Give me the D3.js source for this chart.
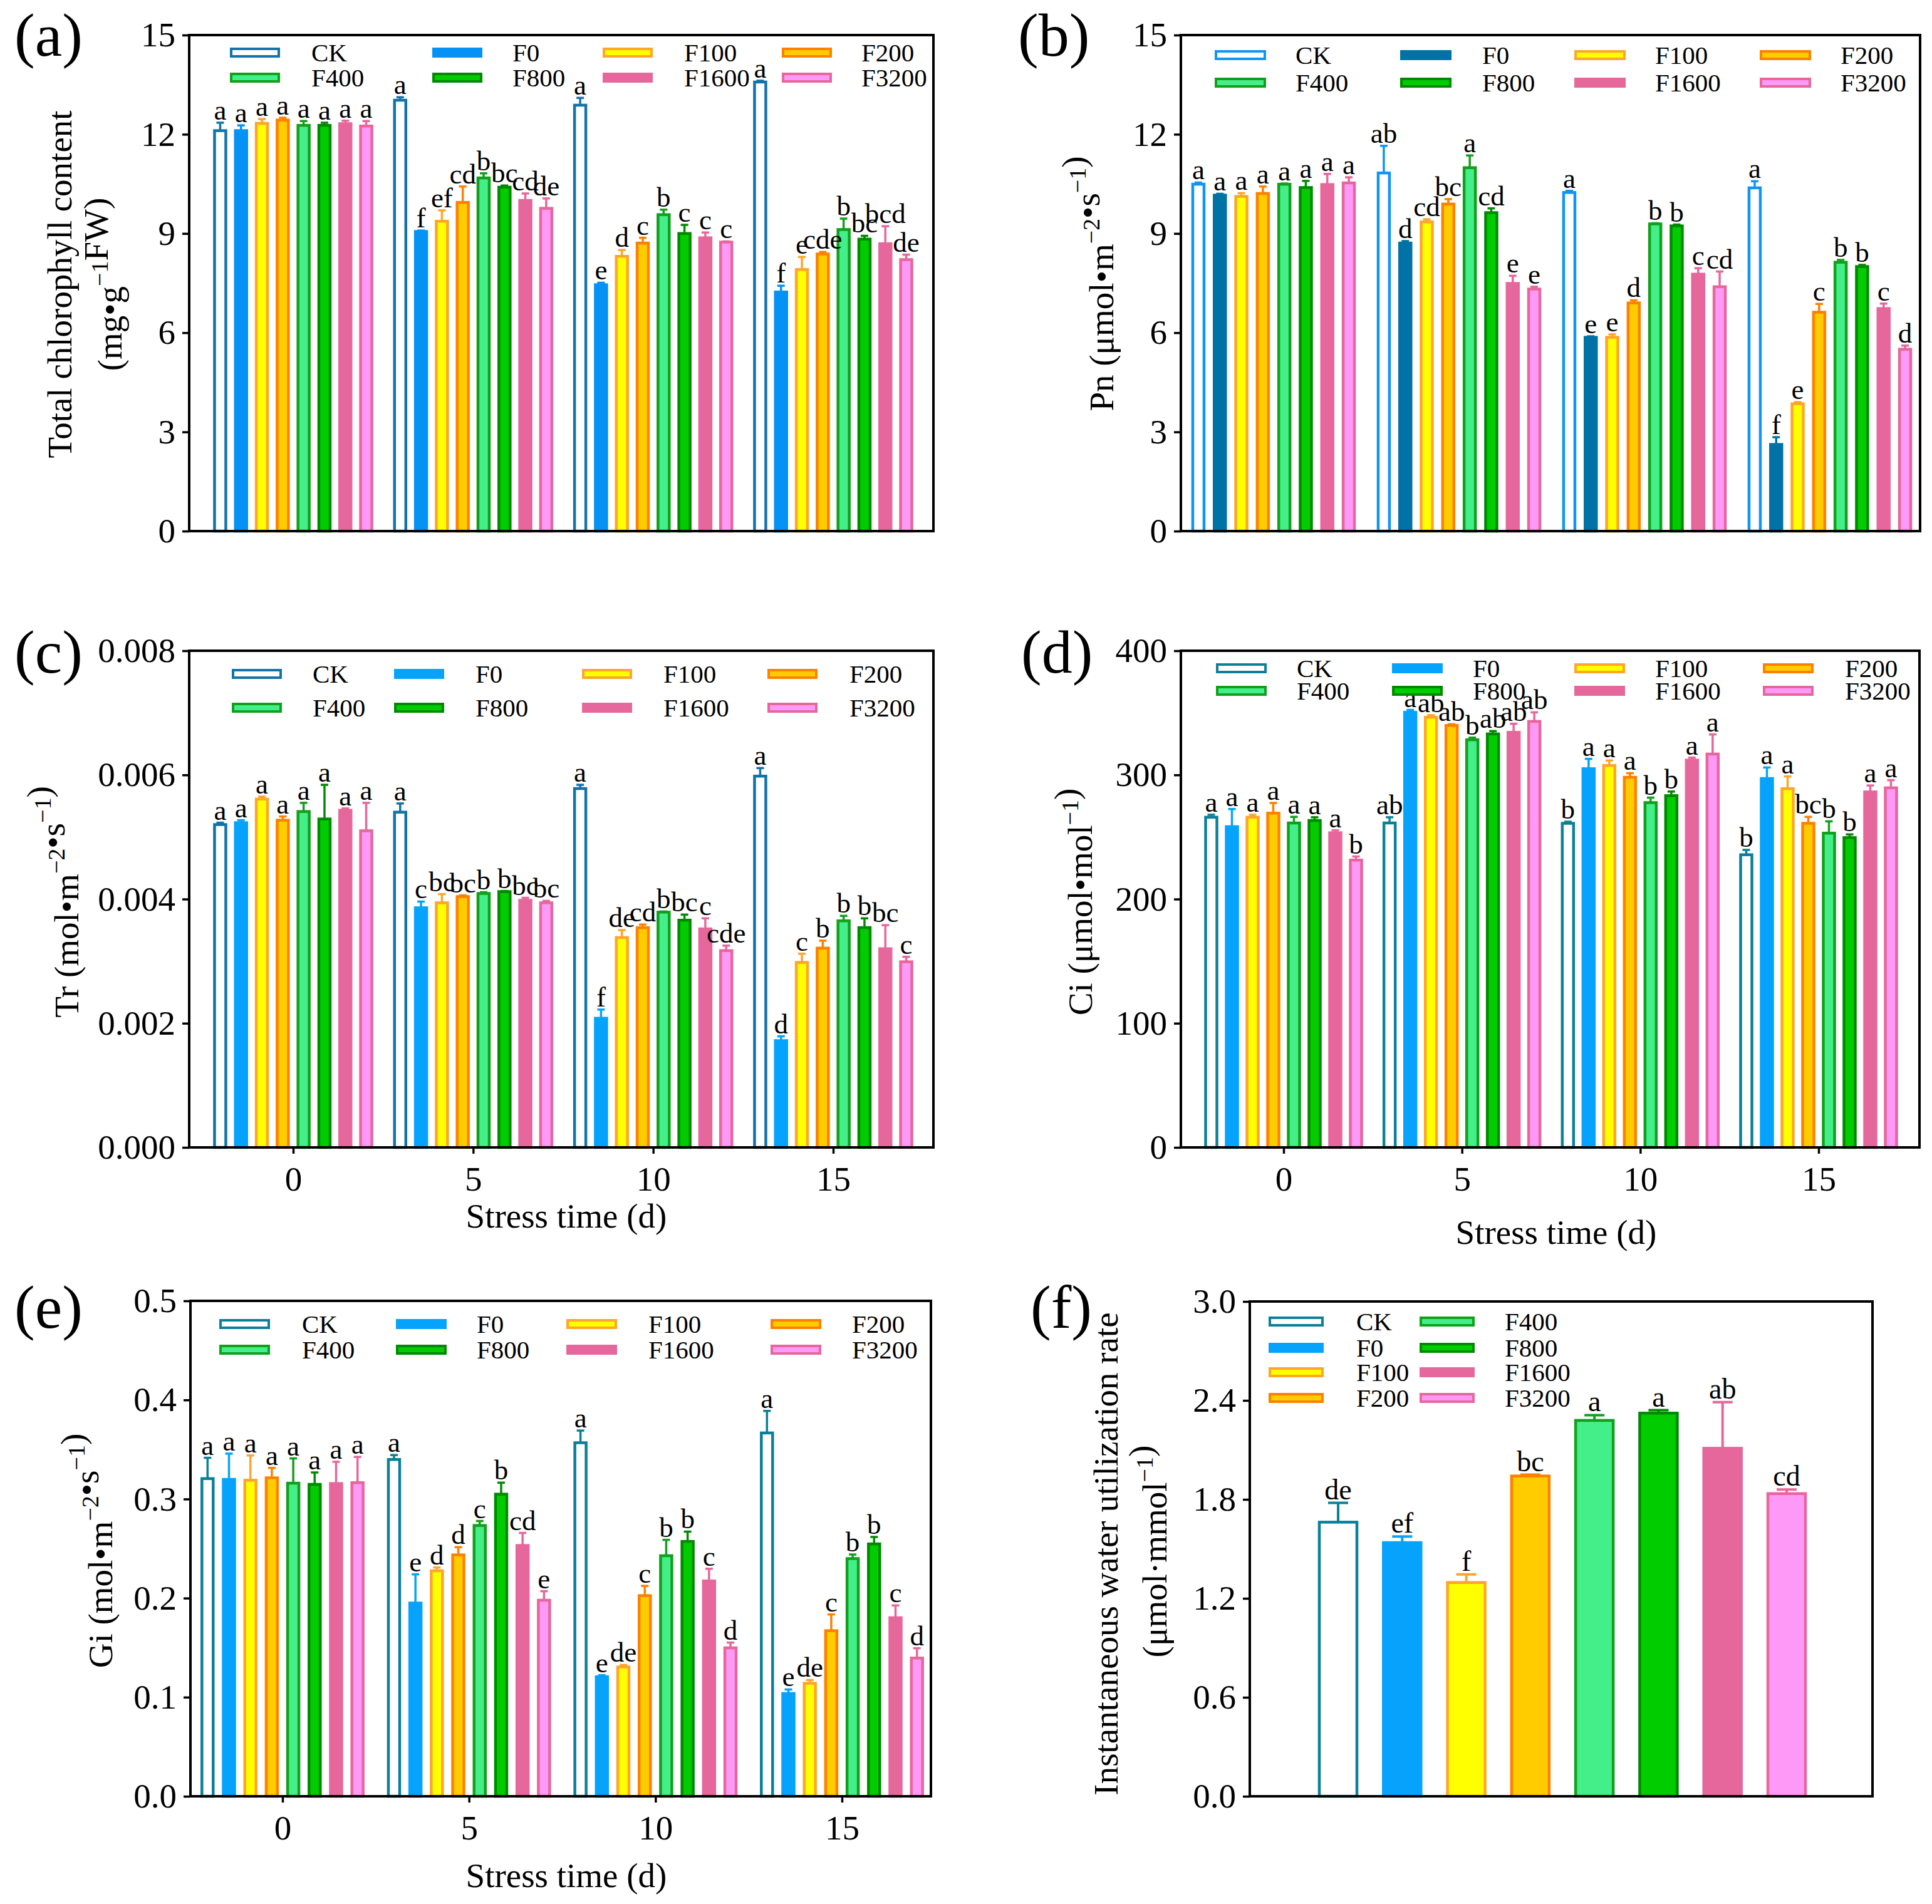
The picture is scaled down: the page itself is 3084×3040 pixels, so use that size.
<!DOCTYPE html>
<html><head><meta charset="utf-8">
<script src="https://cdn.jsdelivr.net/npm/d3@7"></script>
<style>
body{margin:0;background:#fff}
text{font-family:"Liberation Serif","Times New Roman",serif;fill:#000}
</style>
</head><body>
<svg id="chart" width="3084" height="3040" xmlns="http://www.w3.org/2000/svg"></svg>
<script>
// ---------------- DATA ----------------
const series = ["CK","F0","F100","F200","F400","F800","F1600","F3200"];
const days = ["0","5","10","15"];

// (a) Total chlorophyll content, rows = days 0,5,10,15
const chlMean = [
  [12.11,12.11,12.33,12.43,12.27,12.27,12.32,12.25],
  [13.03, 9.06, 9.37, 9.94,10.68,10.40,10.00, 9.76],
  [12.88, 7.45, 8.31, 8.71, 9.57, 9.00, 8.87, 8.74],
  [13.58, 7.23, 7.91, 8.38, 9.12, 8.83, 8.69, 8.21]];
const chlErr = [
  [0.24,0.16,0.13,0.07,0.13,0.08,0.09,0.15],
  [0.09,0.03,0.33,0.48,0.14,0.05,0.21,0.30],
  [0.22,0.06,0.19,0.16,0.15,0.26,0.16,0.02],
  [0.04,0.19,0.38,0.06,0.33,0.10,0.53,0.15]];
const chlLetters = [
  ["a","a","a","a","a","a","a","a"],
  ["a","f","ef","cd","b","bc","cd","de"],
  ["a","e","d","c","b","c","c","c"],
  ["a","f","e","cde","b","bc","bcd","de"]];

// (b) Pn
const pnMean = [
  [10.49,10.16,10.12,10.21,10.49,10.39,10.48,10.53],
  [10.83, 8.71, 9.35, 9.89,10.99, 9.63, 7.49, 7.32],
  [10.24, 5.86, 5.86, 6.90, 9.29, 9.23, 7.77, 7.39],
  [10.38, 2.62, 3.85, 6.62, 8.13, 8.00, 6.73, 5.50]];
const pnErr = [
  [0.05,0.04,0.10,0.21,0.02,0.20,0.32,0.17],
  [0.82,0.06,0.08,0.15,0.37,0.13,0.23,0.07],
  [0.05,0.03,0.09,0.08,0.02,0.04,0.18,0.46],
  [0.20,0.22,0.05,0.25,0.07,0.05,0.15,0.11]];
const pnLetters = [
  ["a","a","a","a","a","a","a","a"],
  ["ab","d","cd","bc","a","cd","e","e"],
  ["a","e","e","d","b","b","c","cd"],
  ["a","f","e","c","b","b","c","d"]];

// (c) Tr
const trMean = [
  [0.00520,0.00523,0.00561,0.00527,0.00541,0.00529,0.00543,0.00510],
  [0.00540,0.00386,0.00394,0.00404,0.00409,0.00412,0.00398,0.00394],
  [0.00578,0.00208,0.00338,0.00354,0.00379,0.00366,0.00352,0.00317],
  [0.00598,0.00172,0.00298,0.00321,0.00365,0.00354,0.00320,0.00299]];
const trErr = [
  [0.00003,0.00004,0.00004,0.00006,0.00014,0.00055,0.00003,0.00045],
  [0.00014,0.00010,0.00014,0.00002,0.00002,0.00001,0.00004,0.00003],
  [0.00006,0.00014,0.00012,0.00005,0.00001,0.00009,0.00017,0.00008],
  [0.00013,0.00007,0.00014,0.00012,0.00008,0.00015,0.00038,0.00008]];
const trLetters = [
  ["a","a","a","a","a","a","a","a"],
  ["a","c","bc","bc","b","b","bc","bc"],
  ["a","f","de","cd","b","bc","c","cde"],
  ["a","d","c","b","b","b","bc","c"]];

// (d) Ci
const ciMean = [
  [265.9,258.3,265.9,269.2,261.3,263.3,253.4,231.4],
  [261.3,350.4,346.4,339.8,328.3,333.0,334.3,343.1],
  [261.0,305.0,307.6,298.1,277.7,283.3,311.9,316.8],
  [235.7,297.1,288.9,261.0,253.1,249.5,286.3,289.6]];
const ciErr = [
  [2.0,14.2,2.0,8.2,4.9,2.6,2.0,2.9],
  [4.6,1.9,1.7,1.0,1.7,2.3,6.9,7.3],
  [1.3,7.9,4.0,3.3,4.0,3.3,2.0,15.8],
  [3.9,8.9,9.9,5.2,9.5,2.6,5.2,6.2]];
const ciLetters = [
  ["a","a","a","a","a","a","a","b"],
  ["ab","a","ab","ab","b","ab","ab","ab"],
  ["b","a","a","a","b","b","a","a"],
  ["b","a","a","bc","b","b","a","a"]];

// (e) Gi
const giMean = [
  [0.3206,0.3198,0.3190,0.3214,0.3160,0.3148,0.3156,0.3165],
  [0.3399,0.1950,0.2276,0.2436,0.2733,0.3049,0.2531,0.1979],
  [0.3568,0.1206,0.1305,0.2025,0.2428,0.2572,0.2173,0.1498],
  [0.3667,0.1037,0.1140,0.1671,0.2399,0.2547,0.1802,0.1395]];
const giErr = [
  [0.0210,0.0260,0.0250,0.0100,0.0250,0.0120,0.0220,0.0260],
  [0.0045,0.0290,0.0033,0.0078,0.0045,0.0116,0.0127,0.0091],
  [0.0123,0.0016,0.0020,0.0098,0.0160,0.0099,0.0123,0.0053],
  [0.0222,0.0041,0.0033,0.0164,0.0041,0.0070,0.0124,0.0099]];
const giLetters = [
  ["a","a","a","a","a","a","a","a"],
  ["a","e","d","d","c","b","cd","e"],
  ["a","e","de","c","b","b","c","d"],
  ["a","e","de","c","b","b","c","d"]];

// (f) Instantaneous water utilization rate
const wueMean = [1.662,1.538,1.296,1.942,2.279,2.323,2.110,1.835];
const wueErr  = [0.117,0.037,0.049,0.008,0.032,0.018,0.280,0.025];
const wueLetters = ["de","ef","f","bc","a","a","ab","cd"];

// tick values
const ticksA = [0,3,6,9,12,15];
const ticksB = [0,3,6,9,12,15];
const ticksC = [0,0.002,0.004,0.006,0.008];
const ticksD = [0,100,200,300,400];
const ticksE = [0,0.1,0.2,0.3,0.4,0.5];
const ticksF = [0,0.6,1.2,1.8,2.4,3.0];

// ---------------- STYLE ----------------
const baseFill   = {F100:"#ffff00",F200:"#ffcc00",F400:"#44ee88",F800:"#00cc00",F1600:"#e6679b",F3200:"#ff99f7"};
const baseStroke = {F100:"#ffa52b",F200:"#ff8000",F400:"#12a01c",F800:"#008a00",F1600:"#e6679b",F3200:"#e6679b"};
function palette(ck, f0){
  const fill = Object.assign({CK:"#ffffff",F0:f0}, baseFill);
  const stroke = Object.assign({CK:ck,F0:f0}, baseStroke);
  return {fill, stroke};
}

const svg = d3.select("#chart");
svg.append("rect").attr("width",3084).attr("height",3040).attr("fill","#fff");

function rotTitle(x, y, parts){
  const t = svg.append("text")
    .attr("transform", `translate(${x},${y}) rotate(-90)`)
    .attr("text-anchor","middle").attr("font-size",55);
  parts.forEach(p=>{
    if (p.sup) {
      t.append("tspan").attr("dy",-22).attr("font-size",38).text(p.t);
      t.append("tspan").attr("dy",22).text("");
    } else t.append("tspan").text(p.t);
  });
  return t;
}
function panelLabel(x, y, s){
  svg.append("text").attr("x",x).attr("y",y).attr("font-size",98).text(s);
}

function drawYAxis(g, y, cfg){
  const ax = d3.axisLeft(y).tickValues(cfg.ticks).tickSize(11).tickPadding(11).tickFormat(cfg.fmt);
  const a = g.append("g").attr("transform",`translate(${cfg.L},0)`).call(ax);
  a.select(".domain").remove();
  a.selectAll(".tick line").attr("stroke","#000").attr("stroke-width",3.5);
  a.selectAll(".tick text").attr("font-size",55).attr("font-family",'"Liberation Serif",serif').attr("fill","#000");
}
function drawFrame(g, cfg){
  g.append("rect").attr("x",cfg.L).attr("y",cfg.T).attr("width",cfg.R-cfg.L).attr("height",cfg.B-cfg.T)
    .attr("fill","none").attr("stroke","#000").attr("stroke-width",4);
}
function drawLegend(g, cfg, pal, colMajor){
  const lg = cfg.legend;
  series.forEach((s,i)=>{
    let col, row;
    if (colMajor){ col = Math.floor(i/lg.rows.length); row = i%lg.rows.length; }
    else { col = i%lg.sx.length; row = Math.floor(i/lg.sx.length); }
    const cy = lg.rows[row];
    g.append("rect").attr("x",lg.sx[col]+2).attr("y",cy-6).attr("width",lg.sw-4).attr("height",12)
      .attr("fill",pal.fill[s]).attr("stroke",pal.stroke[s]).attr("stroke-width",4);
    g.append("text").attr("x",lg.tx[col]).attr("y",cy+14).attr("font-size",41).text(s);
  });
}

function groupedPanel(cfg, mean, err, letters){
  const pal = palette(cfg.ck, cfg.f0);
  const g = svg.append("g");
  const y = d3.scaleLinear().domain(cfg.yDom).range([cfg.B, cfg.T]);
  const x0 = d3.scalePoint().domain(days).range([cfg.c0, cfg.c3]);
  const barW = 18;
  const pi = 1 - barW/cfg.step;
  const x1 = d3.scaleBand().domain(series).range([-4*cfg.step, 4*cfg.step]).paddingInner(pi).paddingOuter(pi/2);
  const rows = [];
  days.forEach((d,di)=>series.forEach((s,si)=>rows.push({d,s,v:mean[di][si],e:err[di][si],l:letters[di][si]})));
  const cx = r => x0(r.d) + x1(r.s) + x1.bandwidth()/2;
  g.selectAll("rect.bar").data(rows).join("rect").attr("class","bar")
    .attr("x", r=>x0(r.d)+x1(r.s)).attr("width", x1.bandwidth())
    .attr("y", r=>y(r.v)).attr("height", r=>cfg.B - y(r.v))
    .attr("fill", r=>pal.fill[r.s]).attr("stroke", r=>pal.stroke[r.s]).attr("stroke-width",4.5);
  g.selectAll("line.eb").data(rows).join("line").attr("class","eb")
    .attr("x1",cx).attr("x2",cx).attr("y1",r=>y(r.v)).attr("y2",r=>y(r.v+r.e))
    .attr("stroke",r=>pal.stroke[r.s]).attr("stroke-width",3.5);
  g.selectAll("line.cap").data(rows).join("line").attr("class","cap")
    .attr("x1",r=>cx(r)-6).attr("x2",r=>cx(r)+6).attr("y1",r=>y(r.v+r.e)).attr("y2",r=>y(r.v+r.e))
    .attr("stroke",r=>pal.stroke[r.s]).attr("stroke-width",3.5);
  g.selectAll("text.sig").data(rows).join("text").attr("class","sig")
    .attr("x",cx).attr("y",r=>y(r.v+r.e)-5).attr("text-anchor","middle").attr("font-size",45).text(r=>r.l);
  drawYAxis(g, y, cfg);
  if (cfg.xTicks){
    const ax = d3.axisBottom(x0).tickSize(10).tickPadding(20);
    const a = g.append("g").attr("transform",`translate(0,${cfg.B})`).call(ax);
    a.select(".domain").remove();
    a.selectAll(".tick line").attr("stroke","#000").attr("stroke-width",3.5);
    a.selectAll(".tick text").attr("font-size",55).attr("font-family",'"Liberation Serif",serif').attr("fill","#000");
    g.append("text").attr("x",cfg.xtX).attr("y",cfg.xtY).attr("text-anchor","middle").attr("font-size",55).text("Stress time (d)");
  }
  drawLegend(g, cfg, pal, false);
  drawFrame(g, cfg);
}

// ---------------- PANELS ----------------
groupedPanel({L:302,R:1490,T:56,B:848,yDom:[0,15],ticks:ticksA,fmt:d3.format("d"),
  c0:468,c3:1330,step:33.3,ck:"#1473a8",f0:"#0592f5",xTicks:false,
  legend:{sx:[367,690,962,1248],tx:[497,818,1092,1375],rows:[84,124],sw:80}}, chlMean, chlErr, chlLetters);
panelLabel(23,89,"(a)");
svg.append("text").attr("transform","translate(114,454) rotate(-90)").attr("text-anchor","middle").attr("font-size",55).text("Total chlorophyll content");
rotTitle(194,454,[{t:"(mg•g"},{t:"−1",sup:true},{t:"FW)"}]);

groupedPanel({L:1885,R:3065,T:56,B:848,yDom:[0,15],ticks:ticksB,fmt:d3.format("d"),
  c0:2033,c3:2921,step:34.3,ck:"#1195f2",f0:"#0072a6",xTicks:false,
  legend:{sx:[1939,2235,2513,2809],tx:[2068,2366,2642,2938],rows:[88,132],sw:82}}, pnMean, pnErr, pnLetters);
panelLabel(1625,89,"(b)");
rotTitle(1777,453,[{t:"Pn (μmol•m"},{t:"−2",sup:true},{t:"•s"},{t:"−1",sup:true},{t:")"}]);

groupedPanel({L:302,R:1490,T:1039,B:1832,yDom:[0,0.008],ticks:ticksC,fmt:d3.format(".3f"),
  c0:468,c3:1330,step:33.3,ck:"#1273a8",f0:"#05a3fb",xTicks:true,xtX:904,xtY:1960,
  legend:{sx:[370,629,929,1225],tx:[499,759,1059,1356],rows:[1076,1130],sw:80}}, trMean, trErr, trLetters);
panelLabel(23,1074,"(c)");
rotTitle(125,1440,[{t:"Tr (mol•m"},{t:"−2",sup:true},{t:"•s"},{t:"−1",sup:true},{t:")"}]);

groupedPanel({L:1885,R:3064,T:1039,B:1832,yDom:[0,400],ticks:ticksD,fmt:d3.format("d"),
  c0:2049,c3:2903,step:33.0,ck:"#0b8199",f0:"#05a3fb",xTicks:true,xtX:2484,xtY:1986,
  legend:{sx:[1941,2222,2513,2814],tx:[2070,2351,2642,2945],rows:[1067,1103],sw:81}}, ciMean, ciErr, ciLetters);
panelLabel(1630,1074,"(d)");
rotTitle(1743,1440,[{t:"Ci (μmol•mol"},{t:"−1",sup:true},{t:")"}]);

groupedPanel({L:304,R:1486,T:2077,B:2868,yDom:[0,0.5],ticks:ticksE,fmt:d3.format(".1f"),
  c0:451,c3:1344,step:34.2,ck:"#0b7f99",f0:"#05a3fb",xTicks:true,xtX:904,xtY:3013,
  legend:{sx:[350,632,904,1230],tx:[482,761,1035,1360],rows:[2114,2155],sw:81}}, giMean, giErr, giLetters);
panelLabel(23,2120,"(e)");
rotTitle(179,2476,[{t:"Gi (mol•m"},{t:"−2",sup:true},{t:"•s"},{t:"−1",sup:true},{t:")"}]);

// (f)
(function(){
  const cfg = {L:1995,R:2989,T:2078,B:2868,ticks:ticksF,fmt:d3.format(".1f"),
    legend:{sx:[2025,2266],tx:[2165,2402],rows:[2110,2152,2191,2232],sw:88}};
  const pal = palette("#0b8199","#05a3fb");
  const g = svg.append("g");
  const y = d3.scaleLinear().domain([0,3]).range([cfg.B,cfg.T]);
  const x = d3.scalePoint().domain(series).range([2136,2852]);
  const bw = 60;
  const rows = series.map((s,i)=>({s,v:wueMean[i],e:wueErr[i],l:wueLetters[i]}));
  g.selectAll("rect.bar").data(rows).join("rect").attr("class","bar")
    .attr("x",r=>x(r.s)-bw/2).attr("width",bw).attr("y",r=>y(r.v)).attr("height",r=>cfg.B-y(r.v))
    .attr("fill",r=>pal.fill[r.s]).attr("stroke",r=>pal.stroke[r.s]).attr("stroke-width",4.5);
  g.selectAll("line.eb").data(rows).join("line").attr("class","eb")
    .attr("x1",r=>x(r.s)).attr("x2",r=>x(r.s)).attr("y1",r=>y(r.v)).attr("y2",r=>y(r.v+r.e))
    .attr("stroke",r=>pal.stroke[r.s]).attr("stroke-width",4);
  g.selectAll("line.cap").data(rows).join("line").attr("class","cap")
    .attr("x1",r=>x(r.s)-16).attr("x2",r=>x(r.s)+16).attr("y1",r=>y(r.v+r.e)).attr("y2",r=>y(r.v+r.e))
    .attr("stroke",r=>pal.stroke[r.s]).attr("stroke-width",4);
  g.selectAll("text.sig").data(rows).join("text").attr("class","sig")
    .attr("x",r=>x(r.s)).attr("y",r=>y(r.v+r.e)-6).attr("text-anchor","middle").attr("font-size",46).text(r=>r.l);
  drawYAxis(g, y, cfg);
  drawLegend(g, cfg, pal, true);
  drawFrame(g, cfg);
})();
panelLabel(1645,2120,"(f)");
svg.append("text").attr("transform","translate(1784,2481) rotate(-90)").attr("text-anchor","middle").attr("font-size",55).text("Instantaneous water utilization rate");
rotTitle(1862,2477,[{t:"(μmol·mmol"},{t:"−1",sup:true},{t:")"}]);
</script>
</body></html>
